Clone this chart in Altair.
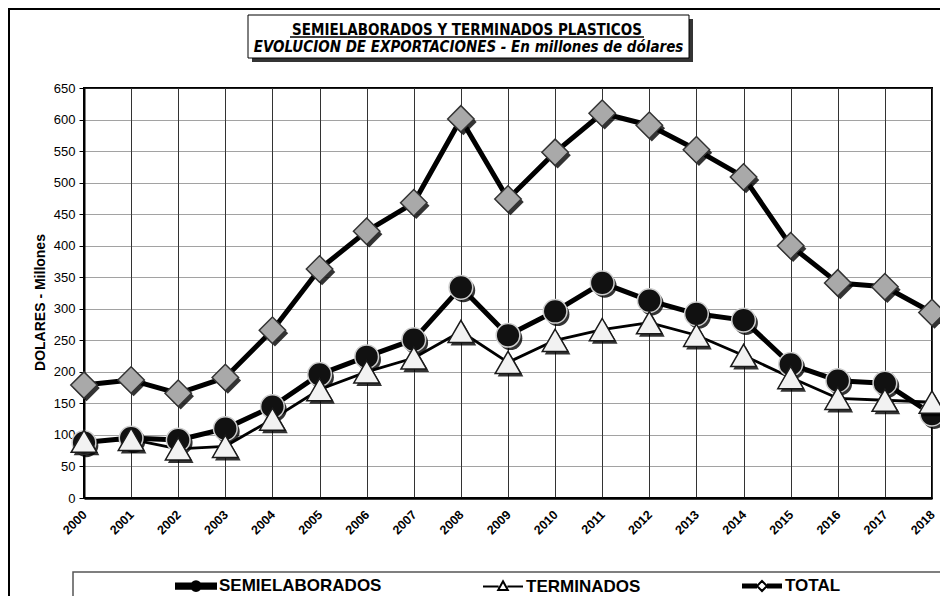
import altair as alt
import pandas as pd

years = ["2000", "2001", "2002", "2003", "2004", "2005", "2006", "2007", "2008", "2009",
         "2010", "2011", "2012", "2013", "2014", "2015", "2016", "2017", "2018"]
semielaborados = [88, 95, 92, 110, 145, 196, 224, 251, 334, 258, 296, 341, 313, 292, 282, 212, 186, 182, 133]
terminados = [90, 93, 78, 82, 125, 172, 200, 222, 264, 215, 250, 267, 278, 258, 226, 191, 158, 155, 152]
total = [179, 187, 166, 191, 266, 363, 423, 468, 601, 474, 548, 610, 591, 552, 509, 400, 341, 335, 294]
series = ["SEMIELABORADOS", "TERMINADOS", "TOTAL"]
y_ticks = [0, 50, 100, 150, 200, 250, 300, 350, 400, 450, 500, 550, 600, 650]

title1 = "SEMIELABORADOS Y TERMINADOS PLASTICOS"
title2 = "EVOLUCION DE EXPORTACIONES - En millones de dólares"
y_title = "DOLARES - Millones"

rows = []
for k, (name, vals) in enumerate(zip(series, [semielaborados, terminados, total])):
    for i, (yr, v) in enumerate(zip(years, vals)):
        rows.append({"Año": yr, "Valor": v, "Serie": name})
df = pd.DataFrame(rows)

FONT = "Liberation Sans"

x_enc = alt.X("Año:O", scale=alt.Scale(type="point", padding=0, domain=years),
              axis=alt.Axis(title=None, labelAngle=315, labelAlign="right", labelBaseline="top",
                            labelFont=FONT, labelFontSize=12.5, labelFontWeight="bold", labelColor="black",
                            labelPadding=10, labelOffset=-4, ticks=False, domainColor="black", domainWidth=2.5,
                            grid=True, gridColor="#333333", gridWidth=1, gridOpacity=1))
y_enc = alt.Y("Valor:Q", scale=alt.Scale(domain=[0, 650], nice=False, zero=True),
              axis=alt.Axis(values=y_ticks, title=y_title, titleFont=FONT, titleFontSize=14,
                            titleFontWeight="bold", titleColor="black", titleX=-44, titleY=214,
                            titleAngle=270, titleAlign="center", titleBaseline="middle",
                            labelFont=FONT, labelFontSize=13, labelColor="black", labelPadding=4,
                            tickSize=5, tickColor="black", tickWidth=1, domainColor="black", domainWidth=2,
                            grid=True, gridColor="#444444", gridDash=[1, 1], gridWidth=1, gridOpacity=1))

# per-series styling
line_width = {"SEMIELABORADOS": 5, "TERMINADOS": 2.8, "TOTAL": 5}
shape = {"SEMIELABORADOS": "circle", "TERMINADOS": "triangle-up", "TOTAL": "diamond"}
size = {"SEMIELABORADOS": 560, "TERMINADOS": 660, "TOTAL": 700}
fill = {"SEMIELABORADOS": "#111111", "TERMINADOS": "#f2f2f2", "TOTAL": "#a9a9a9"}
stroke = {"SEMIELABORADOS": "#cfcfcf", "TERMINADOS": "#1a1a1a", "TOTAL": "#333333"}

base = alt.Chart(df)

line_layers = []
marker_layers = []
for s in series:
    sub = base.transform_filter(alt.datum.Serie == s)
    line_layers.append(
        sub.mark_line(color="black", strokeWidth=line_width[s], strokeJoin="round").encode(x=x_enc, y=y_enc)
    )
    marker_layers.append(
        sub.mark_point(filled=True, opacity=0.8, xOffset=2.5, yOffset=3, color="black",
                       shape=shape[s], size=size[s]).encode(x=x_enc, y=y_enc)
    )
    marker_layers.append(
        sub.mark_point(filled=True, opacity=1, fill=fill[s], stroke=stroke[s], strokeWidth=1.5,
                       shape=shape[s], size=size[s]).encode(x=x_enc, y=y_enc)
    )

legend_paths = [
    "M-1,-0.13H1V0.13H-1Z M-0.24,0A0.24,0.24 0 1,1 0.24,0A0.24,0.24 0 1,1 -0.24,0Z",
    "M-1,0H-0.22M0.22,0H1M0,-0.26L0.24,0.18L-0.24,0.18Z",
    "M-1,-0.08H-0.25M-1,0H-0.25M-1,0.08H-0.25M0.25,-0.08H1M0.25,0H1M0.25,0.08H1M0,-0.25L0.25,0L0,0.25L-0.25,0Z",
]
leg = alt.Legend(title=None, orient="none", legendX=91, legendY=477, direction="horizontal",
                 columnPadding=97, symbolSize=1600, labelFont=FONT, labelFontSize=17,
                 labelFontWeight="bold", labelColor="black", labelOffset=2, symbolStrokeWidth=2,
                 symbolStrokeColor="black", padding=0, labelLimit=400, symbolOpacity=1)
legend_layer = base.mark_point(filled=True, strokeWidth=2, opacity=1).encode(
    x=x_enc, y=y_enc,
    shape=alt.Shape("Serie:N", scale=alt.Scale(domain=series, range=legend_paths), legend=leg),
    fill=alt.Fill("Serie:N", scale=alt.Scale(domain=series, range=["black", "white", "white"]), legend=leg),
    stroke=alt.Stroke("Serie:N", scale=alt.Scale(domain=series, range=["black", "black", "black"]), legend=leg),
).transform_filter("datum.Valor < 0")

one = alt.Data(values=[{"a": 1}])

frame = alt.Chart(one).mark_rect(fillOpacity=0, stroke="black", strokeWidth=2).encode(
    x=alt.value(-75), x2=alt.value(900), y=alt.value(-79), y2=alt.value(600))
title_shadow = alt.Chart(one).mark_rect(fill="#111111", opacity=0.85).encode(
    x=alt.value(168), x2=alt.value(609), y=alt.value(-69), y2=alt.value(-26))
title_box = alt.Chart(one).mark_rect(fill="white", stroke="black", strokeWidth=1).encode(
    x=alt.value(164), x2=alt.value(605), y=alt.value(-73), y2=alt.value(-30))
t1 = alt.Chart(one).mark_text(font="DejaVu Sans Condensed, DejaVu Sans", fontSize=15, fontWeight="bold",
                              align="center", baseline="alphabetic", color="black").encode(
    x=alt.value(383), y=alt.value(-53.5), text=alt.value(title1))
underline = alt.Chart(one).mark_rule(color="black", strokeWidth=1.3).encode(
    x=alt.value(206), x2=alt.value(560), y=alt.value(-51))
t2 = alt.Chart(one).mark_text(font="DejaVu Sans Condensed, DejaVu Sans", fontSize=15, fontWeight="bold",
                              fontStyle="italic", align="center", baseline="alphabetic", color="black").encode(
    x=alt.value(384.5), y=alt.value(-36), text=alt.value(title2))
legend_box = alt.Chart(one).mark_rect(fillOpacity=0, stroke="#555555", strokeWidth=1.5).encode(
    x=alt.value(-11), x2=alt.value(900), y=alt.value(484), y2=alt.value(540))

chart = alt.layer(
    frame, title_shadow, title_box, t1, underline, t2, legend_box,
    *line_layers, *marker_layers, legend_layer,
).resolve_scale(
    shape="independent", fill="independent", stroke="independent"
).properties(
    width=848, height=410,
    autosize=alt.AutoSizeParams(type="none"),
    padding={"left": 76, "top": 80, "right": 8, "bottom": 98},
    background="white",
).configure_view(stroke="black", strokeWidth=2)

chart.save("out.html", embed_options={"renderer": "svg", "actions": False})
